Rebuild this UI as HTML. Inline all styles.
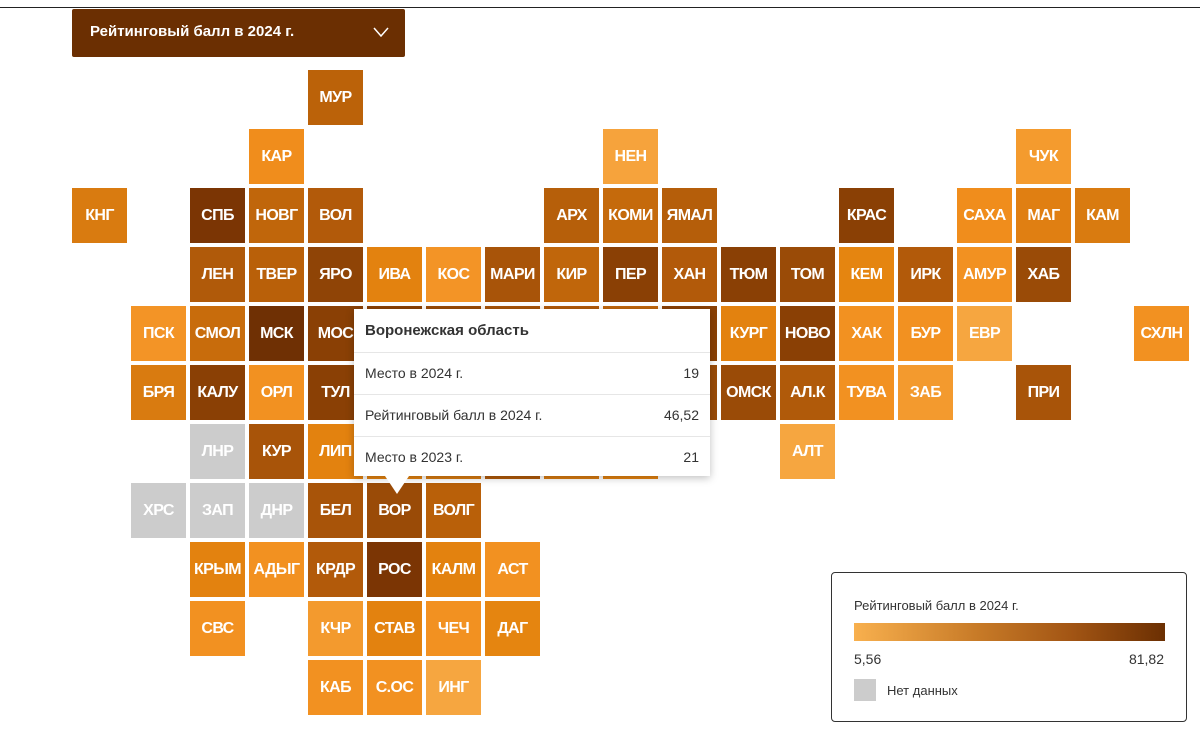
<!DOCTYPE html>
<html><head><meta charset="utf-8"><style>
body{margin:0;width:1200px;height:742px;background:#fff;position:relative;overflow:hidden;font-family:"Liberation Sans",sans-serif}
.topline{position:absolute;left:0;top:7px;width:1200px;height:1px;background:#222}
.dd{position:absolute;left:72px;top:9px;width:333px;height:48px;background:#6b2f02;border-radius:2px;color:#fff;font-weight:bold;font-size:15px;line-height:46px;box-sizing:border-box;padding-left:18px}
.dd svg{position:absolute;right:16px;top:18px}
.c{position:absolute;width:55px;height:55px;color:#fff;font-weight:bold;font-size:16px;line-height:55px;text-align:center;letter-spacing:-0.6px;white-space:nowrap;overflow:hidden}
.tt{position:absolute;left:354px;top:309px;width:356px;height:167px;background:#fff;box-shadow:0 2px 8px rgba(0,0,0,.25);color:#333;font-size:14px}
.tt .h{height:43px;line-height:43px;padding-left:11px;font-weight:bold;font-size:15px;border-bottom:1px solid #e6e6e6}
.tt .r{height:41px;line-height:41px;padding:0 11px;border-bottom:1px solid #e6e6e6;display:flex;justify-content:space-between}
.tt .r:last-child{border-bottom:none}
.arrow{position:absolute;left:385px;top:476px;width:0;height:0;border-left:12px solid transparent;border-right:12px solid transparent;border-top:18px solid #fff}
.lg{position:absolute;left:831px;top:572px;width:356px;height:150px;border:1px solid #333;border-radius:4px;box-sizing:border-box;font-size:13px;color:#333}
</style></head><body>
<div class="topline"></div>
<div class="dd">Рейтинговый балл в 2024 г.<svg width="16" height="10" viewBox="0 0 16 10"><polyline points="1,1 8,9 15,1" fill="none" stroke="#fff" stroke-width="1.5"/></svg></div>
<div id="g"></div>
<script>
var cells=[
[0,4,'МУР','#bb6209'],
[1,3,'КАР','#f08d1c'],[1,9,'НЕН','#f6a33c'],[1,16,'ЧУК','#f49b2e'],
[2,0,'КНГ','#d97b10'],[2,2,'СПБ','#7b3504'],[2,3,'НОВГ','#c0660b'],[2,4,'ВОЛ','#b25a0a'],[2,8,'АРХ','#b65f0a'],[2,9,'КОМИ','#c56a0c'],[2,10,'ЯМАЛ','#b55e0a'],[2,13,'КРАС','#8a4005'],[2,15,'САХА','#f08d1c'],[2,16,'МАГ','#e07f12'],[2,17,'КАМ','#d97b10'],
[3,2,'ЛЕН','#b05a0a'],[3,3,'ТВЕР','#b96009'],[3,4,'ЯРО','#8f4406'],[3,5,'ИВА','#e3820f'],[3,6,'КОС','#f39426'],[3,7,'МАРИ','#a85409'],[3,8,'КИР','#c0660b'],[3,9,'ПЕР','#8a4005'],[3,10,'ХАН','#b25a0a'],[3,11,'ТЮМ','#8a4005'],[3,12,'ТОМ','#9a4b07'],[3,13,'КЕМ','#e58510'],[3,14,'ИРК','#b25a0a'],[3,15,'АМУР','#f29121'],[3,16,'ХАБ','#9a4b07'],
[4,1,'ПСК','#f39426'],[4,2,'СМОЛ','#c86c0c'],[4,3,'МСК','#6f3004'],[4,4,'МОС','#8a4005'],[4,5,'','#8a4005'],[4,6,'','#9a4b07'],[4,7,'','#a85409'],[4,8,'','#b25a0a'],[4,9,'','#c0660b'],[4,10,'','#8a4005'],[4,11,'КУРГ','#e3820f'],[4,12,'НОВО','#8a4005'],[4,13,'ХАК','#f29121'],[4,14,'БУР','#f29121'],[4,15,'ЕВР','#f6a640'],[4,18,'СХЛН','#f29121'],
[5,1,'БРЯ','#d97b10'],[5,2,'КАЛУ','#8a4005'],[5,3,'ОРЛ','#f29121'],[5,4,'ТУЛ','#8a4005'],[5,5,'','#e3820f'],[5,6,'','#b25a0a'],[5,7,'','#c0660b'],[5,8,'','#e3820f'],[5,9,'','#b25a0a'],[5,10,'','#9a4b07'],[5,11,'ОМСК','#9a4b07'],[5,12,'АЛ.К','#b05a0a'],[5,13,'ТУВА','#f29121'],[5,14,'ЗАБ','#f39a2e'],[5,16,'ПРИ','#a85409'],
[6,2,'ЛНР','#cccccc'],[6,3,'КУР','#a85409'],[6,4,'ЛИП','#e3820f'],[6,5,'','#e3820f'],[6,6,'','#d97b10'],[6,7,'','#b25a0a'],[6,8,'','#d97b10'],[6,9,'','#e3820f'],[6,12,'АЛТ','#f6a640'],
[7,1,'ХРС','#cccccc'],[7,2,'ЗАП','#cccccc'],[7,3,'ДНР','#cccccc'],[7,4,'БЕЛ','#a85409'],[7,5,'ВОР','#9a4b07'],[7,6,'ВОЛГ','#b96009'],
[8,2,'КРЫМ','#e3820f'],[8,3,'АДЫГ','#f29121'],[8,4,'КРДР','#b25a0a'],[8,5,'РОС','#7b3504'],[8,6,'КАЛМ','#e3820f'],[8,7,'АСТ','#f29121'],
[9,2,'СВС','#f29121'],[9,4,'КЧР','#f39a2e'],[9,5,'СТАВ','#e3820f'],[9,6,'ЧЕЧ','#f29121'],[9,7,'ДАГ','#e58510'],
[10,4,'КАБ','#f29121'],[10,5,'С.ОС','#f29121'],[10,6,'ИНГ','#f6a640']];
var h='';cells.forEach(function(c){h+='<div class="c" style="left:'+(72+c[1]*59)+'px;top:'+(70+c[0]*59)+'px;background:'+c[3]+'">'+c[2]+'</div>';});
document.getElementById('g').innerHTML=h;
</script>
<div class="tt"><div class="h">Воронежская область</div>
<div class="r"><span>Место в 2024 г.</span><span>19</span></div>
<div class="r"><span>Рейтинговый балл в 2024 г.</span><span>46,52</span></div>
<div class="r"><span>Место в 2023 г.</span><span>21</span></div></div>
<div class="arrow"></div>
<div class="lg">
<div style="position:absolute;left:22px;top:25px">Рейтинговый балл в 2024 г.</div>
<div style="position:absolute;left:22px;top:50px;width:311px;height:18px;background:linear-gradient(90deg,#f8b04e,#c77a27 40%,#a25514 70%,#6b2f02)"></div>
<div style="position:absolute;left:22px;top:78px;font-size:14px">5,56</div>
<div style="position:absolute;right:22px;top:78px;font-size:14px">81,82</div>
<div style="position:absolute;left:22px;top:106px;width:22px;height:22px;background:#cccccc"></div>
<div style="position:absolute;left:55px;top:110px">Нет данных</div>
</div>
</body></html>
